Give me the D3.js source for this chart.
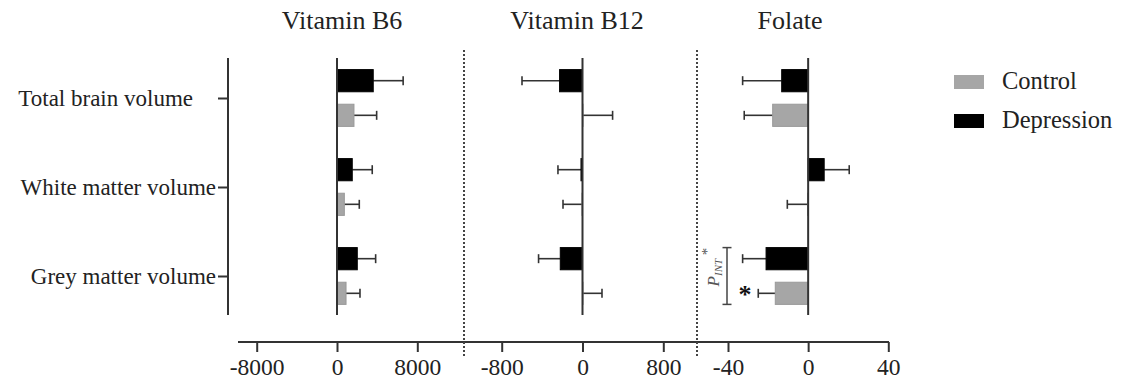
<!DOCTYPE html>
<html>
<head>
<meta charset="utf-8">
<script src="https://cdn.jsdelivr.net/npm/d3@7"></script>
<style>
  body { margin: 0; background: #fff; }
  svg text { font-family: "Liberation Serif", "Times New Roman", Times, "DejaVu Serif", serif; fill: #222; }
</style>
</head>
<body>
<script>
// data
let categories = ["Total brain volume", "White matter volume", "Grey matter volume"]
let groups = ["Depression", "Control"]
let nutrients = ["Vitamin B6", "Vitamin B12", "Folate"]

let b6Depression = [3610, 1520, 2020]
let b6DepressionErr = [2980, 1990, 1830]
let b6Control = [1690, 730, 900]
let b6ControlErr = [2260, 1490, 1390]

let b12Depression = [-227, -15, -220]
let b12DepressionErr = [372, 228, 215]
let b12Control = [5, -5, 5]
let b12ControlErr = [293, 188, 188]

let folateDepression = [-13.2, 8, -21]
let folateDepressionErr = [19.5, 12.5, 11.7]
let folateControl = [-17.7, -0.3, -16.4]
let folateControlErr = [14.2, 10.1, 8.5]

let b6Ticks = [-8000, 0, 8000]
let b12Ticks = [-800, 0, 800]
let folateTicks = [-40, 0, 40]

let w = 1121
let h = 389
let colors = {Depression: "#000000", Control: "#a6a6a6"}
let serif = "'Liberation Serif', 'Times New Roman', Times, 'DejaVu Serif', serif"

let svg = d3.select("body").append("svg")
  .attr("width", w)
  .attr("height", h)
  .attr("font-family", serif)

let y = d3.scalePoint().domain(categories).range([98, 276])
let sub = d3.scaleBand().domain(groups).range([-28.4, 28.4]).paddingInner(0.36)

let panels = [
  {name: nutrients[0], ticks: b6Ticks, range: [256.7, 417.3], titleX: 342,
   Depression: b6Depression, DepressionErr: b6DepressionErr, Control: b6Control, ControlErr: b6ControlErr},
  {name: nutrients[1], ticks: b12Ticks, range: [501.7, 663.3], titleX: 577,
   Depression: b12Depression, DepressionErr: b12DepressionErr, Control: b12Control, ControlErr: b12ControlErr},
  {name: nutrients[2], ticks: folateTicks, range: [728, 888.3], titleX: 790,
   Depression: folateDepression, DepressionErr: folateDepressionErr, Control: folateControl, ControlErr: folateControlErr}
]

let axisY = 342
let plotTop = 58
let plotBottom = 315

// left axis
let yAxis = svg.append("g")
  .attr("transform", "translate(228,0)")
  .call(d3.axisLeft(y).tickSize(10).tickPadding(2).tickFormat((d)=>{
    return d === "Total brain volume" ? d + "\u00a0\u00a0\u00a0\u00a0" : d
  }))
  .attr("font-family", serif)
yAxis.select(".domain").remove()
yAxis.selectAll(".tick line").attr("stroke", "#333").attr("stroke-width", 2)
yAxis.selectAll(".tick text").attr("font-size", 23).attr("fill", "#222")
yAxis.append("line")
  .attr("x1", 0).attr("x2", 0)
  .attr("y1", plotTop).attr("y2", plotBottom)
  .attr("stroke", "#333").attr("stroke-width", 2)

// bottom axis line
svg.append("line")
  .attr("x1", 238).attr("x2", 889)
  .attr("y1", axisY).attr("y2", axisY)
  .attr("stroke", "#333").attr("stroke-width", 2)

// dotted separators
;[464, 697].forEach((xx)=>{
  svg.append("line")
    .attr("x1", xx).attr("x2", xx)
    .attr("y1", 50).attr("y2", 358)
    .attr("stroke", "#444").attr("stroke-width", 2)
    .attr("stroke-dasharray", "2,2")
})

panels.forEach((p)=>{
  let x = d3.scaleLinear().domain([p.ticks[0], p.ticks[2]]).range(p.range)

  let ax = svg.append("g")
    .attr("transform", "translate(0," + axisY + ")")
    .call(d3.axisBottom(x).tickValues(p.ticks).tickSize(10).tickPadding(6)
      .tickFormat((d)=> d))
    .attr("font-family", serif)
  ax.select(".domain").remove()
  ax.selectAll(".tick line").attr("stroke", "#333").attr("stroke-width", 2)
  ax.selectAll(".tick text").attr("font-size", 23.5).attr("fill", "#222")

  svg.append("text")
    .attr("x", p.titleX)
    .attr("y", 29)
    .attr("text-anchor", "middle")
    .attr("font-size", 26)
    .text(p.name)

  let g = svg.append("g")

  let rows = []
  groups.forEach((grp)=>{
    categories.forEach((c, i)=>{
      rows.push({cat: c, grp: grp, v: p[grp][i], e: p[grp + "Err"][i]})
    })
  })

  // error bars
  rows.forEach((r)=>{
    let cy = y(r.cat) + sub(r.grp) + sub.bandwidth() / 2
    let dir = r.v < 0 ? -1 : 1
    let x0 = x(r.v)
    let x1 = x(r.v + dir * r.e)
    g.append("line")
      .attr("x1", x0).attr("x2", x1)
      .attr("y1", cy).attr("y2", cy)
      .attr("stroke", "#333").attr("stroke-width", 1.6)
    g.append("line")
      .attr("x1", x1).attr("x2", x1)
      .attr("y1", cy - 4.5).attr("y2", cy + 4.5)
      .attr("stroke", "#333").attr("stroke-width", 1.6)
  })

  // bars
  g.selectAll("rect")
    .data(rows)
    .enter()
    .append("rect")
    .attr("x", (d)=> Math.min(x(0), x(d.v)))
    .attr("width", (d)=> Math.abs(x(d.v) - x(0)))
    .attr("y", (d)=> y(d.cat) + sub(d.grp))
    .attr("height", sub.bandwidth())
    .attr("fill", (d)=> colors[d.grp])
    .attr("stroke", (d)=> d.grp === "Control" ? "#999" : "#000")
    .attr("stroke-width", 1)

  // zero line
  g.append("line")
    .attr("x1", x(0)).attr("x2", x(0))
    .attr("y1", plotTop).attr("y2", plotBottom)
    .attr("stroke", "#333").attr("stroke-width", 2)

  if (p.name === "Folate") {
    // interaction bracket + significance star
    let top = y(categories[2]) + sub("Depression")
    let bot = y(categories[2]) + sub("Control") + sub.bandwidth()
    let bx = 727
    svg.append("line").attr("x1", bx).attr("x2", bx).attr("y1", top).attr("y2", bot)
      .attr("stroke", "#444").attr("stroke-width", 1.5)
    ;[top, bot].forEach((yy)=>{
      svg.append("line").attr("x1", bx - 4.5).attr("x2", bx + 4.5).attr("y1", yy).attr("y2", yy)
        .attr("stroke", "#444").attr("stroke-width", 1.5)
    })
    let t = svg.append("text")
      .attr("transform", "translate(719,267) rotate(-90)")
      .attr("text-anchor", "middle")
      .attr("font-size", 17)
      .attr("font-style", "italic")
      .style("fill", "#555")
    t.append("tspan").text("P")
    t.append("tspan").attr("font-size", 11).attr("dy", 3).text("INT")
    t.append("tspan").attr("font-size", 15).attr("dy", -10).attr("font-style", "normal").text(" *")
    svg.append("text")
      .attr("x", 745)
      .attr("y", y(categories[2]) + sub("Control") + sub.bandwidth() / 2 + 10)
      .attr("text-anchor", "middle")
      .attr("font-size", 26)
      .attr("font-weight", "bold")
      .style("fill", "#111")
      .text("*")
  }
})

// legend
let legend = svg.append("g")
;["Control", "Depression"].forEach((grp, i)=>{
  legend.append("rect")
    .attr("x", 954).attr("y", 75 + i * 39)
    .attr("width", 30).attr("height", 14)
    .attr("fill", colors[grp])
  legend.append("text")
    .attr("x", 1002).attr("y", 89 + i * 39)
    .attr("font-size", 24.5)
    .text(grp)
})
</script>
</body>
</html>
